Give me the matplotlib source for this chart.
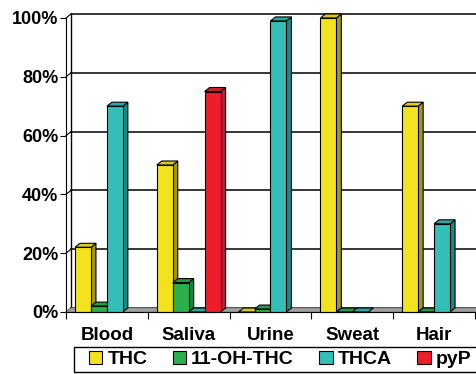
import numpy as np
import matplotlib
matplotlib.use("Agg")
import matplotlib.pyplot as plt
from matplotlib.patches import Polygon, Patch, Rectangle

plt.rcParams["font.family"] = ["Liberation Sans", "DejaVu Sans"]
plt.rcParams["font.weight"] = "bold"

categories = ["Blood", "Saliva", "Urine", "Sweat", "Hair"]
series = ["THC", "11-OH-THC", "THCA", "pyP"]
thc = [22, 50, 0, 100, 70]
oh_thc = [2, 10, 1, 0, 0]
thca = [70, 0, 99, 0, 30]
pyp = [np.nan, 75, np.nan, np.nan, np.nan]
yticks = [0, 20, 40, 60, 80, 100]

front = ["#F3E31F", "#2DB04B", "#33BFB8", "#EE1D2C"]
side = ["#A0952F", "#1F7F3E", "#22877F", "#A82935"]
top = ["#D9CA22", "#27994A", "#2DA9A1", "#D01F2C"]

fig = plt.figure(figsize=(4.77, 3.74), dpi=100)
ax = fig.add_axes([66 / 477, 62 / 374, 409 / 477, 294 / 374])
ax.set_xlim(0, 5)
ax.set_ylim(0, 100)

# depth offset of the 3d look, in data units (5 px right, 4 px up)
dx = 5 / (409 / 5)
dy = 4 / (294 / 100)

# back wall gridlines and left wall
for v in yticks:
    ax.plot([dx, 5 + 2 * dx], [v + dy, v + dy], color="black", lw=1.1,
            clip_on=False, zorder=1)
    ax.plot([0, dx], [v, v + dy], color="black", lw=0.8, clip_on=False, zorder=1)
ax.plot([dx, dx], [dy, 100 + dy], color="black", lw=1, clip_on=False, zorder=1)

# floor
ax.add_patch(Polygon([(0, 0), (5.1, 0), (5.1 + dx, dy), (dx, dy)],
                     closed=True, facecolor="#A0A0A0", edgecolor="#808080",
                     lw=0.6, clip_on=False, zorder=2))

values = [thc, oh_thc, thca, pyp]
x = np.arange(len(categories))
w = 0.195
start = 0.11
for i, vals in enumerate(values):
    xs = x + start + i * w
    z = 3 + i
    ax.bar(xs, vals, width=w, align="edge", color=front[i], edgecolor="black",
           lw=0.8, zorder=z + 0.2, clip_on=False)
    for x0, h in zip(xs, vals):
        if np.isnan(h):
            continue
        x1 = x0 + w
        ax.add_patch(Polygon([(x1, 0), (x1 + dx, dy), (x1 + dx, h + dy), (x1, h)],
                             closed=True, facecolor=side[i], edgecolor="black",
                             lw=0.8, clip_on=False, zorder=z))
        ax.add_patch(Polygon([(x0, h), (x1, h), (x1 + dx, h + dy), (x0 + dx, h + dy)],
                             closed=True, facecolor=top[i], edgecolor="black",
                             lw=0.8, clip_on=False, zorder=z))

for s in ["top", "right"]:
    ax.spines[s].set_visible(False)
ax.spines["left"].set_zorder(10)
ax.spines["bottom"].set_zorder(10)
ax.set_facecolor("none")

ax.set_yticks(yticks)
ax.set_yticklabels([f"{v}%" for v in yticks], fontsize=13, fontweight="bold")
ax.tick_params(axis="y", length=4, pad=1.5)

ax.set_xticks(np.arange(6))
ax.set_xticklabels([])
ax.tick_params(axis="x", which="major", length=5)
ax.set_xticks(x + 0.5, minor=True)
ax.set_xticklabels(categories, minor=True, fontsize=13.5, fontweight="bold")
ax.tick_params(axis="x", which="minor", length=0, pad=11)

# legend box runs off the right edge, as in the original
fig.patches.append(Rectangle((74 / 477, 2 / 374), 420 / 477, 25 / 374,
                             transform=fig.transFigure, facecolor="white",
                             edgecolor="black", lw=1.0))
handles = [Patch(facecolor=front[i], edgecolor="black", lw=0.8) for i in range(4)]
fig.legend(handles, series, ncol=4, loc="center left",
           bbox_to_anchor=(84 / 477, 14.5 / 374), borderaxespad=0,
           frameon=False, prop={"size": 14, "weight": "bold"},
           handlelength=0.7, handleheight=0.7, handletextpad=0.25,
           columnspacing=1.3, borderpad=0.25)

fig.savefig("out.png", dpi=100)
